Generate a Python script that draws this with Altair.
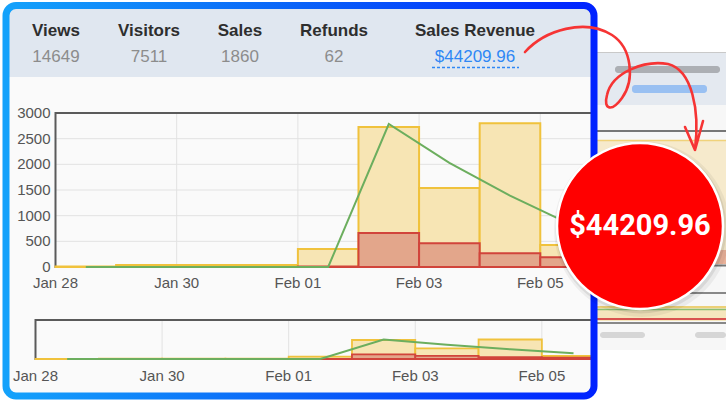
import altair as alt
import pandas as pd

FONT = "Liberation Sans"
W, H = 726, 404

# ---------------- data ----------------
day_starts = ["2019-01-28", "2019-01-29", "2019-01-30", "2019-01-31", "2019-02-01",
              "2019-02-02", "2019-02-03", "2019-02-04", "2019-02-05"]
sales_bars = [12, 40, 40, 40, 350, 2727, 1540, 2800, 428]       # yellow bars
refund_bars = [0, 0, 0, 0, 10, 662, 462, 267, 189]             # red bars
visitor_line = [0, 0, 0, 0, 0, 2786, 2030, 1390, 830]          # green line (mid-day)

x_tick_dates = ["2019-01-28", "2019-01-30", "2019-02-01", "2019-02-03", "2019-02-05"]
y_tick_values = [0, 500, 1000, 1500, 2000, 2500, 3000]
y_grid_values = [500, 1000, 1500, 2000, 2500]

stat_labels = ["Views", "Visitors", "Sales", "Refunds", "Sales Revenue"]
stat_values = ["14649", "7511", "1860", "62", "$44209.96"]
badge_text = "$44209.96"

# ---------------- tables ----------------
fmt = "%Y-%m-%dT%H:%M:%S"
starts = pd.to_datetime(day_starts)
df = pd.DataFrame({
    "start": starts.strftime(fmt),
    "end": (starts + pd.Timedelta(days=1)).strftime(fmt),
    "mid": (starts + pd.Timedelta(hours=12)).strftime(fmt),
    "sales": sales_bars,
    "refunds": refund_bars,
    "visitors": visitor_line,
})
xtick_df = pd.DataFrame({"d": pd.to_datetime(x_tick_dates).strftime(fmt)})
grid_df = pd.DataFrame({"d": pd.to_datetime(x_tick_dates[1:]).strftime(fmt)})
ytick_df = pd.DataFrame({"v": y_tick_values})
ygrid_df = pd.DataFrame({"v": y_grid_values})
one = pd.DataFrame({"k": [0]})


def dt(s, hours=0, minutes=0):
    t = pd.Timestamp(s)
    return alt.DateTime(year=t.year, month=t.month, date=t.day, hours=hours, minutes=minutes)


# ---------------- layout ----------------
MAIN_L, MAIN_R, MAIN_T, MAIN_B = 55.5, 593.3, 113, 267
MINI_L, MINI_R, MINI_T, MINI_B = 35.5, 593.3, 320, 359

YELLOW_FILL, YELLOW_STROKE = "#f7e5b4", "#f0c23c"
RED_FILL, RED_STROKE = "#e3a68b", "#d1443b"
GREEN = "#6cae5e"
GRID = "#e2e2e2"
FRAME = "#5a5a5a"
TICK_COLOR = "#555555"


def box(x1, x2, y1, y2, **kw):
    return alt.Chart(one).mark_rect(**kw).encode(
        x=alt.value(x1), x2=alt.value(x2), y=alt.value(y1), y2=alt.value(y2))


def hline(x1, x2, y, color, width, **kw):
    return alt.Chart(one).mark_rule(color=color, strokeWidth=width, **kw).encode(
        x=alt.value(x1), x2=alt.value(x2), y=alt.value(y))


def label(text, x, y, **kw):
    return alt.Chart(one).mark_text(text=text, **kw).encode(x=alt.value(x), y=alt.value(y))


def time_chart(xscale, yscale, left, right, top, bottom, sw, with_y, xlab_y):
    frame = box(left, right, top, bottom, fill="transparent", stroke=FRAME, strokeWidth=2)
    vgrid = alt.Chart(grid_df).mark_rule(color=GRID, strokeWidth=1).encode(
        x=alt.X("d:T", scale=xscale, axis=None),
        y=alt.datum(0, scale=yscale, axis=None), y2=alt.datum(yscale.domain[1]))
    layers = [vgrid]
    if with_y:
        hgrid = alt.Chart(ygrid_df).mark_rule(color=GRID, strokeWidth=1).encode(
            y=alt.Y("v:Q", scale=yscale, axis=None),
            x=alt.value(left), x2=alt.value(right))
        layers.append(hgrid)
    layers.append(frame)
    yellow = alt.Chart(df).mark_rect(fill=YELLOW_FILL, stroke=YELLOW_STROKE, strokeWidth=sw).encode(
        x=alt.X("start:T", scale=xscale, axis=None), x2="end:T",
        y=alt.Y("sales:Q", scale=yscale, axis=None), y2=alt.datum(0))
    red = alt.Chart(df).transform_filter("datum.refunds > 0").mark_rect(
        fill=RED_FILL, stroke=RED_STROKE, strokeWidth=sw).encode(
        x=alt.X("start:T", scale=xscale, axis=None), x2="end:T",
        y=alt.Y("refunds:Q", scale=yscale, axis=None), y2=alt.datum(0))
    green = alt.Chart(df).mark_line(color=GREEN, strokeWidth=2).encode(
        x=alt.X("mid:T", scale=xscale, axis=None),
        y=alt.Y("visitors:Q", scale=yscale, axis=None))
    layers += [yellow, red, green]
    # tick labels drawn through the same scales
    xlab = alt.Chart(xtick_df).mark_text(font=FONT, fontSize=15, color=TICK_COLOR,
                                         align="center", baseline="middle").encode(
        x=alt.X("d:T", scale=xscale, axis=None), y=alt.value(xlab_y),
        text=alt.Text("d:T", format="%b %d"))
    layers.append(xlab)
    if with_y:
        ylab = alt.Chart(ytick_df).mark_text(font=FONT, fontSize=15, color=TICK_COLOR,
                                             align="right", baseline="middle").encode(
            y=alt.Y("v:Q", scale=yscale, axis=None), x=alt.value(left - 5),
            text=alt.Text("v:Q", format="d"))
        layers.append(ylab)
    return alt.layer(*layers)


main_x = alt.Scale(domain=[dt(day_starts[0]), dt(day_starts[-1], 21)],
                   range=[MAIN_L, MAIN_R], clamp=True, nice=False)
main_y = alt.Scale(domain=[0, 3000], range=[MAIN_B, MAIN_T], nice=False)
mini_x = alt.Scale(domain=[dt(day_starts[0]), dt(day_starts[-1], 19, 30)],
                   range=[MINI_L, MINI_R], clamp=True, nice=False)
mini_y = alt.Scale(domain=[0, 5600], range=[MINI_B, MINI_T], nice=False)

main = time_chart(main_x, main_y, MAIN_L, MAIN_R, MAIN_T, MAIN_B, 2, True, MAIN_B + 16)
mini = time_chart(mini_x, mini_y, MINI_L, MINI_R, MINI_T, MINI_B, 1.8, False, MINI_B + 17)

# ---------------- background screenshot on the right ----------------
right_bg = [
    box(597, W, 52, 350, fill="#f7f7f7"),
    box(597, W, 52, 105, fill="#e4e9f0"),
    hline(597, W, 52.5, "#c9c9c9", 1),
    box(615, 720, 66, 73, fill="#444444", opacity=0.35, cornerRadius=3),
    box(632, 707, 85, 93, fill="#3d8ef5", opacity=0.45, cornerRadius=3),
    hline(597, W, 131, "#777777", 2),
    box(597, W, 140, 264, fill="#f6e8c4", opacity=0.85),
    hline(597, W, 140.5, "#f0d27a", 1.5),
    box(597, W, 250, 264, fill="#e9b29a"),
    hline(597, W, 265.5, "#777777", 2),
    hline(597, W, 293, "#888888", 2),
    box(597, W, 306, 321, fill="#f5e6bd"),
    hline(597, W, 307, "#e8c860", 1.5),
    hline(597, W, 309.5, "#8cbf74", 1.5),
    hline(597, W, 319, "#d9534f", 2),
    hline(597, W, 323, "#888888", 2),
    box(600, 645, 332, 338, fill="#999999", opacity=0.35, cornerRadius=3),
    box(695, W, 332, 338, fill="#999999", opacity=0.35, cornerRadius=3),
]

# ---------------- main panel and header ----------------
panel = [
    box(6, 594, 5, 396, fill="#fafafa"),
    box(9, 591, 8.5, 77, fill="#e0e7f0"),
]
stat_x = [56, 149, 240, 334, 475]
header = []
for i, (lab, val) in enumerate(zip(stat_labels, stat_values)):
    header.append(label(lab, stat_x[i], 31, font=FONT, fontSize=17, fontWeight="bold",
                        color="#2e2e2e", align="center", baseline="middle"))
    is_rev = i == len(stat_labels) - 1
    header.append(label(val, stat_x[i], 57, font=FONT, fontSize=17,
                        color="#2f88f5" if is_rev else "#8c8c8c",
                        align="center", baseline="middle"))
header.append(hline(432, 519, 67.5, "#2f88f5", 1.5, strokeDash=[3, 2]))

# ---------------- frame, badge and arrow ----------------
border_grad = alt.Gradient(gradient="linear", x1=0, y1=0, x2=1, y2=0,
                           stops=[alt.GradientStop(color="#14a2fb", offset=0),
                                  alt.GradientStop(color="#0a62f8", offset=0.5),
                                  alt.GradientStop(color="#0022ff", offset=1)])
border = box(6, 594, 5.5, 396, fill="transparent", stroke=border_grad, strokeWidth=7, cornerRadius=10)

CX, CY, D = 640, 226, 166
shadow1 = alt.Chart(one).mark_point(shape="circle", size=(D + 10) ** 2, filled=True, fill="#000000",
                                    opacity=0.05).encode(x=alt.value(CX + 2), y=alt.value(CY + 3))
shadow2 = alt.Chart(one).mark_point(shape="circle", size=(D + 5) ** 2, filled=True, fill="#000000",
                                    opacity=0.08).encode(x=alt.value(CX + 1), y=alt.value(CY + 2))
circle = alt.Chart(one).mark_point(shape="circle", size=D ** 2, filled=True, fill="#ff0000",
                                   stroke="#ffffff", strokeWidth=2.5, opacity=1).encode(
    x=alt.value(CX), y=alt.value(CY))
badge = label(badge_text, CX, CY, font="Roboto", fontSize=29, fontWeight="bold", color="#ffffff",
              align="center", baseline="middle")

ARROW = ("M525,52 C545,30 585,18 612,35 C632,48 635,80 622,98 C612,112 603,110 607,95 "
         "C612,72 645,60 668,64 C692,70 700,110 695,150 M685,127 L695,150 L703,121")
arrow = alt.Chart(one).mark_point(shape=ARROW, size=4, filled=False, stroke="#f63434",
                                  strokeWidth=2.6, opacity=1, strokeCap="round",
                                  strokeJoin="round").encode(x=alt.value(0), y=alt.value(0))

chart = alt.layer(
    *right_bg, *panel, *header, main, mini, border, shadow1, shadow2, circle, badge, arrow
).resolve_scale(x="independent", y="independent").properties(
    width=W, height=H, padding=0, autosize=alt.AutoSizeParams(type="none"), background="white"
).configure_view(stroke=None)

chart.save("out.html", embed_options={"renderer": "svg", "actions": False})
